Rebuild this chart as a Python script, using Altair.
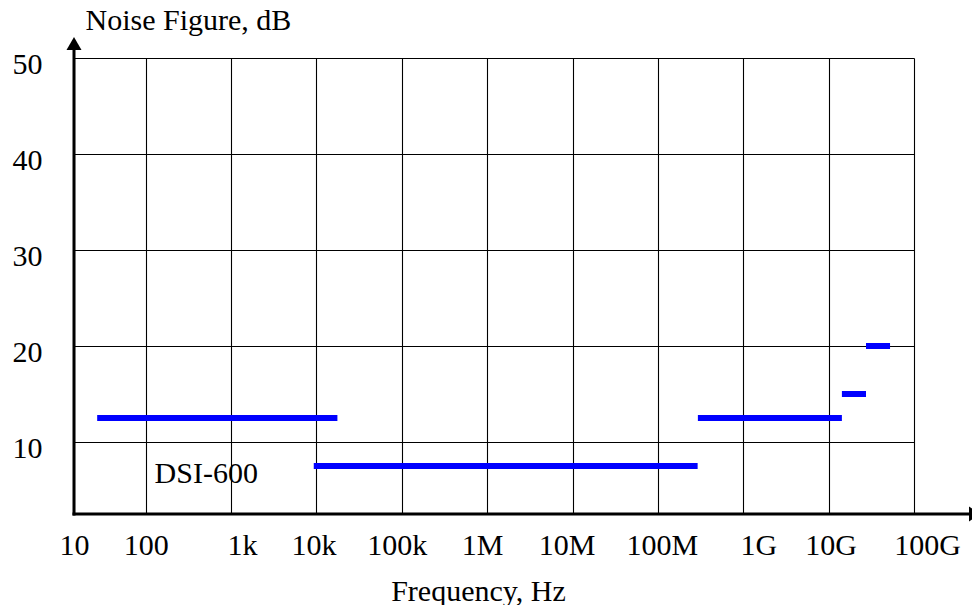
import json
import altair as alt
import pandas as pd

# ---- data ----
freq_start = [27, 9300, 2.94e8, 1.43e10, 2.74e10]
freq_end = [1.76e4, 2.92e8, 1.43e10, 2.74e10, 5.24e10]
nf_db = [12.5, 7.5, 12.5, 15, 20]

x_tick_labels = ["10", "100", "1k", "10k", "100k", "1M", "10M", "100M", "1G", "10G", "100G"]
x_tick_values = [14.45, 1e2, 1e3, 1e4, 1e5, 1e6, 1e7, 1e8, 1e9, 1e10, 1e11]
y_tick_values = [10, 20, 30, 40, 50]

annot_text = ["DSI-600"]
annot_freq = [127]
annot_db = [5.7]

# style: horizontal nudges of individual tick labels (px), by decade index
label_nudge = {3: 11, 4: -3, 5: -5, 6: -5, 7: -6, 8: 4, 9: 15, 10: 2, 11: 13}

FONT = "Liberation Serif"
W, H = 840, 456

segs = pd.DataFrame({"f0": freq_start, "f1": freq_end, "nf": nf_db})
ann = pd.DataFrame({"t": annot_text, "f": annot_freq, "nf": annot_db})
dummy = pd.DataFrame({"a": [0]})

xscale = alt.Scale(type="log", domain=[14.45, 1e11], nice=False)
yscale = alt.Scale(domain=[2.5, 50], nice=False, zero=False)

label_expr = json.dumps(x_tick_labels) + "[round(log(datum.value)/LN10)-1]"
nudge_cond = [
    {"test": f"round(log(datum.value)/LN10)=={k}", "value": v}
    for k, v in label_nudge.items()
]

xaxis = alt.Axis(
    values=x_tick_values, labelExpr=label_expr, grid=True, gridColor="black",
    gridWidth=1.1, gridOpacity=1, domain=False, ticks=False, labelOverlap=False,
    labelFlush=False, labelBound=False, labelFont=FONT, labelFontSize=30,
    labelColor="black", labelPadding=16, labelBaseline="top",
    labelOffset={"condition": nudge_cond, "value": 0},
    title="Frequency, Hz", titleFont=FONT, titleFontSize=30, titleFontWeight="normal",
    titleColor="black", titleX=404, titleY=86, titleAlign="center",
    titleBaseline="alphabetic",
)
yaxis = alt.Axis(
    values=y_tick_values, grid=True, gridColor="black", gridWidth=1.1, gridOpacity=1,
    domain=False, ticks=False, labelOverlap=False, labelFlush=False,
    labelFont=FONT, labelFontSize=30, labelColor="black", labelPadding=32,
    labelAlign="right", labelBaseline="middle", labelOffset=6,
    title="Noise Figure, dB", titleFont=FONT, titleFontSize=30,
    titleFontWeight="normal", titleColor="black", titleAngle=0, titleX=11,
    titleY=-29, titleAlign="left", titleBaseline="alphabetic",
)

lines = alt.Chart(segs).mark_rule(color="#0000ff", strokeWidth=6, strokeCap="butt").encode(
    x=alt.X("f0:Q", scale=xscale, axis=xaxis),
    x2="f1:Q",
    y=alt.Y("nf:Q", scale=yscale, axis=yaxis),
)

label = alt.Chart(ann).mark_text(
    font=FONT, fontSize=30, color="black", align="left", baseline="alphabetic"
).encode(
    x=alt.X("f:Q", scale=xscale),
    y=alt.Y("nf:Q", scale=yscale),
    text="t:N",
)

y_axis_line = alt.Chart(dummy).mark_rule(color="black", strokeWidth=3).encode(
    x=alt.value(0), y=alt.value(-8), y2=alt.value(H + 1.5)
)
x_axis_line = alt.Chart(dummy).mark_rule(color="black", strokeWidth=3).encode(
    y=alt.value(H), x=alt.value(-1.5), x2=alt.value(W + 57)
)
y_arrow = alt.Chart(dummy).mark_point(
    shape="M-1,0.87L0,-0.87L1,0.87Z", size=225, filled=True, color="black", opacity=1
).encode(x=alt.value(0), y=alt.value(-14.5))
x_arrow = alt.Chart(dummy).mark_point(
    shape="M-0.73,-1L0.73,0L-0.73,1Z", size=225, filled=True, color="black", opacity=1
).encode(x=alt.value(W + 60.5), y=alt.value(H))

chart = alt.layer(lines, label, y_axis_line, x_axis_line, y_arrow, x_arrow).properties(
    width=W, height=H,
    autosize=alt.AutoSizeParams(type="none"),
    padding={"left": 66, "top": 50, "right": 58, "bottom": 91},
    background="white",
).configure_view(stroke=None)

chart.save("out.html", embed_options={"renderer": "svg", "actions": False})
